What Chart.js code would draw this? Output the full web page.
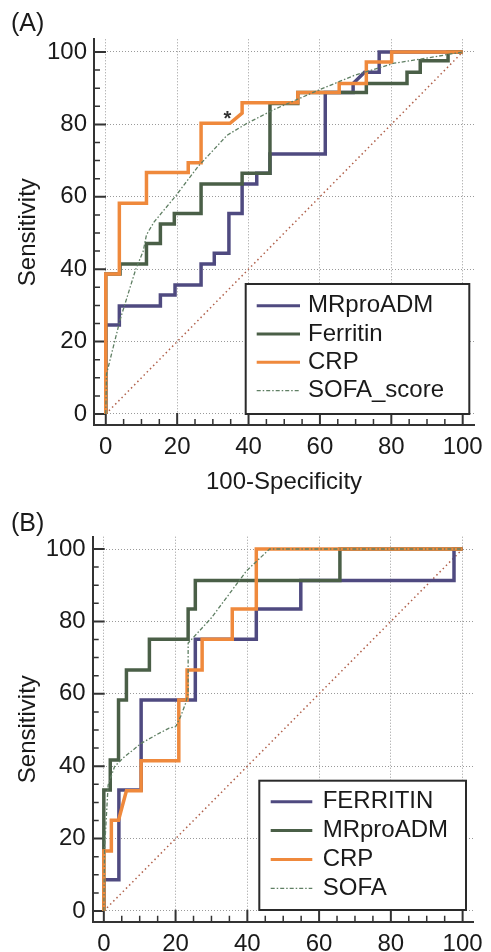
<!DOCTYPE html>
<html>
<head>
<meta charset="utf-8">
<script src="https://cdn.jsdelivr.net/npm/chart.js@4.4.1/dist/chart.umd.min.js"></script>
<style>
  html, body { margin: 0; padding: 0; background: #fff; overflow: hidden; }
  canvas { display: block; }
</style>
</head>
<body>
<canvas id="rocA" width="491" height="500"></canvas>
<canvas id="rocB" width="491" height="452"></canvas>
<script>
// ROC points as [100-specificity, sensitivity]
// panel A
const aMrproadm = [[0,0],[0,24.6],[3.8,24.6],[3.8,29.8],[15.3,29.8],[15.3,32.9],[19.4,32.9],[19.4,35.6],[26.7,35.6],[26.7,41.4],[30.4,41.4],[30.4,44.4],[34.5,44.4],[34.5,55.4],[38.2,55.4],[38.2,63.5],[42.3,63.5],[42.3,66.5],[46,66.5],[46,71.8],[61.5,71.8],[61.5,88.8],[69.3,88.8],[69.3,91.3],[72.5,94.4],[76.6,94.4],[76.6,100],[100,100]];
const aFerritin = [[0,0],[0,38.7],[4,38.7],[4,41.4],[11.4,41.4],[11.4,47.1],[15.3,47.1],[15.3,52.5],[19.2,52.5],[19.2,55.4],[26.7,55.4],[26.7,63.5],[38.2,63.5],[38.2,66.5],[46,66.5],[46,85.8],[53.8,85.8],[53.8,88.8],[73,88.8],[73,91.3],[84.4,91.3],[84.4,94.4],[88.1,94.4],[88.1,97.6],[95.9,97.6],[95.9,100],[100,100]];
const aCrp = [[0,0],[0,38.7],[3.8,38.7],[3.8,58.2],[11.4,58.2],[11.4,66.7],[23.1,66.7],[23.1,69.4],[26.7,69.4],[26.7,80.3],[34.8,80.3],[38.2,83.1],[38.2,86],[53.8,86],[53.8,88.8],[65.4,88.8],[65.4,91.3],[73,91.3],[73,97.2],[80.1,97.2],[80.1,100],[100,100]];
const aSofa = [[0,0],[0.2,11],[4,26],[8.4,40],[10.5,45],[11.4,49.5],[13.5,53],[19.4,60],[25.8,68.3],[34,77],[39.6,80.3],[46.9,84],[59.7,89.5],[69.8,93.6],[80.8,96.9],[89.9,98.3],[100,100]];
const aLabels = ['MRproADM', 'Ferritin', 'CRP', 'SOFA_score'];
const aStar = [34.1, 83.1];

// panel B
const bFerritin = [[0,0],[0,8.6],[4.2,8.6],[4.2,33.4],[10.4,33.4],[10.4,58.3],[25.5,58.3],[25.5,75.1],[42.5,75.1],[42.5,83.4],[54.9,83.4],[54.9,91.3],[97.6,91.3],[97.6,100],[100,100]];
const bMrproadm = [[0,0],[0,33.4],[1.8,33.4],[1.8,41.7],[4.1,41.7],[4.1,58.3],[6.3,58.3],[6.3,66.6],[12.7,66.6],[12.7,75.1],[23.5,75.1],[23.5,83.4],[25.5,83.4],[25.5,91.3],[65.8,91.3],[65.8,100],[100,100]];
const bCrp = [[0,0],[0,16.6],[2.1,16.6],[2.1,25.1],[4.1,25.1],[6.3,33.2],[10.4,33.2],[10.4,41.5],[20.9,41.5],[20.9,58.3],[23.2,58.3],[23.2,66.6],[27.4,66.6],[27.4,75.1],[35.8,75.1],[35.8,83.4],[42.5,83.4],[42.5,100],[100,100]];
const bSofa = [[0,0],[0.2,17],[1.2,34.8],[3,39.9],[5.3,42.2],[10.4,46.3],[14.5,48.6],[18.2,50.5],[20,50.9],[21.4,53.7],[22.8,57.4],[23.5,60],[23.5,74],[30,81],[39.8,94],[46.2,100],[100,100]];
const bLabels = ['FERRITIN', 'MRproADM', 'CRP', 'SOFA'];

const diagonal = [[0,0],[100,100]];
const tickValues = [0, 20, 40, 60, 80, 100];

const FONT = "'Liberation Sans', Arial, sans-serif";
const PURPLE = '#4f4a80', GREEN = '#4a5f47', ORANGE = '#ef893c', SOFA = '#5f7f63', DIAG = '#b0604a';

const toXY = pts => pts.map(p => ({ x: p[0], y: p[1] }));

function curve(label, pts, color, order) {
  return { label, data: toXY(pts), borderColor: color, borderWidth: 3.5,
    pointRadius: 0, fill: false, tension: 0, order };
}
function sofaCurve(label, pts, order) {
  return { label, data: toXY(pts), borderColor: SOFA, borderWidth: 1.3,
    borderDash: [4, 2, 1.5, 2], pointRadius: 0, fill: false, tension: 0, order };
}

// axes ticks pointing inward, panel tag, star, legend box
const rocDecor = {
  id: 'rocDecor',
  beforeDatasetsDraw(chart) {
    const { ctx } = chart;
    const xs = chart.scales.x, ys = chart.scales.y;
    ctx.save();
    ctx.strokeStyle = '#333';
    for (let v = 0; v <= 100; v += 5) {
      const major = v % 20 === 0;
      const len = major ? 12 : 6;
      ctx.lineWidth = major ? 2 : 1.5;
      const py = ys.getPixelForValue(v);
      const px = xs.getPixelForValue(v);
      ctx.beginPath();
      ctx.moveTo(xs.left, py); ctx.lineTo(xs.left + len, py);
      ctx.moveTo(px, ys.bottom); ctx.lineTo(px, ys.bottom - len);
      ctx.stroke();
    }
    ctx.restore();
  },
  afterDatasetsDraw(chart) {
    const { ctx } = chart;
    const p = chart.options.plugins.rocDecor;
    ctx.save();
    // legend
    const b = p.legendBox;
    ctx.fillStyle = '#fff';
    ctx.fillRect(b.left, b.top, b.right - b.left, b.bottom - b.top);
    ctx.strokeStyle = '#2a2a2a';
    ctx.lineWidth = 2;
    ctx.strokeRect(b.left, b.top, b.right - b.left, b.bottom - b.top);
    const items = chart.data.datasets.filter(d => d.label);
    items.forEach((d, i) => {
      const y = b.top + p.rowStart + i * p.rowStep;
      ctx.save();
      ctx.strokeStyle = d.borderColor;
      ctx.lineWidth = d.borderDash ? d.borderWidth : 3;
      ctx.setLineDash(d.borderDash || []);
      ctx.beginPath();
      ctx.moveTo(p.lineX[0], y); ctx.lineTo(p.lineX[1], y);
      ctx.stroke();
      ctx.restore();
      ctx.fillStyle = '#1a1a1a';
      ctx.font = '24px ' + FONT;
      ctx.textBaseline = 'middle';
      ctx.textAlign = 'left';
      ctx.fillText(d.label, p.textX, y);
    });
    // star
    if (p.star) {
      const sx = chart.scales.x.getPixelForValue(p.star[0]);
      const sy = chart.scales.y.getPixelForValue(p.star[1]);
      ctx.fillStyle = '#333';
      ctx.font = 'bold 20px ' + FONT;
      ctx.textAlign = 'center';
      ctx.textBaseline = 'alphabetic';
      ctx.fillText('*', sx, sy + 12);
    }
    // panel tag
    ctx.fillStyle = '#1a1a1a';
    ctx.font = '25px ' + FONT;
    ctx.textAlign = 'left';
    ctx.textBaseline = 'alphabetic';
    ctx.fillText(p.tag, 11, 31);
    ctx.restore();
  }
};

function makeRoc(id, datasets, cfg) {
  return new Chart(document.getElementById(id), {
    type: 'line',
    data: { datasets },
    options: {
      responsive: false,
      animation: false,
      layout: { padding: { top: cfg.padTop, right: cfg.padRight, left: 0, bottom: 0 }, autoPadding: false },
      plugins: {
        legend: { display: false },
        tooltip: { enabled: false },
        rocDecor: cfg
      },
      scales: {
        x: {
          type: 'linear', min: cfg.xMin, max: cfg.xMax,
          afterBuildTicks: s => { s.ticks = tickValues.map(v => ({ value: v })); },
          afterFit: s => { s.height = cfg.xAxisH; },
          grid: { color: '#9a9a9a', lineWidth: 1, drawTicks: false },
          border: { display: true, color: '#333', width: 2, dash: [1, 2] },
          ticks: { color: '#1a1a1a', font: { size: 24, family: FONT }, padding: 8, maxRotation: 0, autoSkip: false },
          title: { display: cfg.showXTitle, text: '100-Specificity', color: '#1a1a1a',
            font: { size: 24, family: FONT }, padding: { top: 0, bottom: 3.6 } }
        },
        y: {
          type: 'linear', min: cfg.yMin, max: cfg.yMax,
          afterBuildTicks: s => { s.ticks = tickValues.map(v => ({ value: v })); },
          afterFit: s => { s.width = cfg.yAxisW; },
          grid: { color: '#9a9a9a', lineWidth: 1, drawTicks: false },
          border: { display: true, color: '#333', width: 2, dash: [1, 2] },
          ticks: { color: '#1a1a1a', font: { size: 24, family: FONT }, padding: 7, autoSkip: false },
          title: { display: true, text: 'Sensitivity', color: '#1a1a1a',
            font: { size: 24, family: FONT }, padding: { top: 13.6, bottom: 0 } }
        }
      }
    },
    plugins: [rocDecor]
  });
}

function diagSet() {
  return { label: '', data: toXY(diagonal), borderColor: DIAG, borderWidth: 1.5,
    borderDash: [1.5, 3], pointRadius: 0, fill: false, order: 5 };
}

makeRoc('rocA', [
  curve(aLabels[0], aMrproadm, PURPLE, 4),
  curve(aLabels[1], aFerritin, GREEN, 3),
  curve(aLabels[2], aCrp, ORANGE, 2),
  sofaCurve(aLabels[3], aSofa, 1),
  diagSet()
], {
  tag: '(A)', star: aStar,
  xMin: -3.3, xMax: 103.2, yMin: -3.04, yMax: 103.5,
  yAxisW: 94, xAxisH: 75, padTop: 39.3, padRight: 9.3, showXTitle: true,
  legendBox: { left: 245.7, top: 284, right: 469.3, bottom: 414 },
  rowStart: 21.7, rowStep: 28.3, lineX: [256.7, 300], textX: 308
});

makeRoc('rocB', [
  curve(bLabels[0], bFerritin, PURPLE, 4),
  curve(bLabels[1], bMrproadm, GREEN, 3),
  curve(bLabels[2], bCrp, ORANGE, 2),
  sofaCurve(bLabels[3], bSofa, 1),
  diagSet()
], {
  tag: '(B)', star: null,
  xMin: -3.1, xMax: 103, yMin: -2.96, yMax: 103.4,
  yAxisW: 92.7, xAxisH: 30.3, padTop: 36.7, padRight: 13, showXTitle: false,
  legendBox: { left: 259.3, top: 280.7, right: 466, bottom: 410 },
  rowStart: 21, rowStep: 28.9, lineX: [270.7, 312.3], textX: 322.7
});
</script>
</body>
</html>
